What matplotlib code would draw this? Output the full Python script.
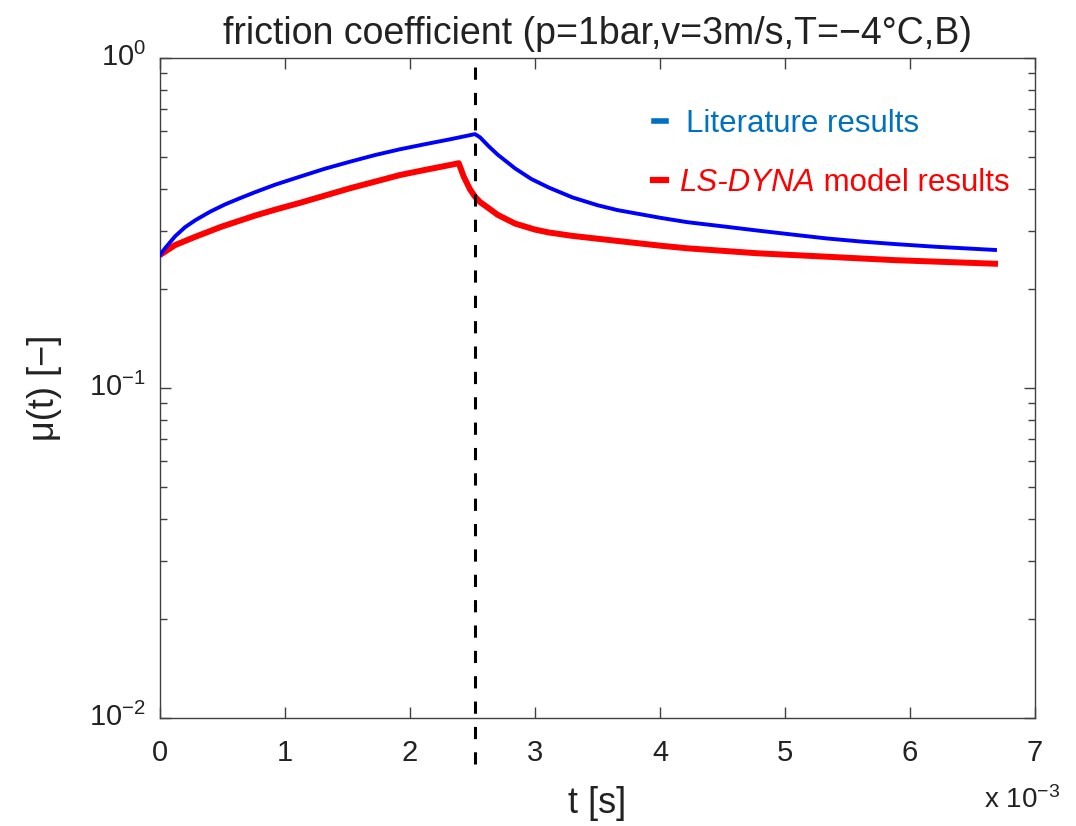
import matplotlib
matplotlib.use("Agg")
import matplotlib.pyplot as plt
import matplotlib.transforms as mtransforms
from matplotlib.lines import Line2D

plt.rcParams['font.family'] = ['Liberation Sans', 'DejaVu Sans']
plt.rcParams['mathtext.fontset'] = 'custom'
plt.rcParams['mathtext.rm'] = 'Liberation Sans'
plt.rcParams['mathtext.it'] = 'Liberation Sans:italic'

# time in units of 1e-3 s
t_lit = [0.0, 0.04, 0.12, 0.2, 0.28, 0.4, 0.52, 0.64, 0.76, 0.92, 1.12, 1.32, 1.52, 1.72, 1.92,
         2.12, 2.32, 2.52, 2.56, 2.63, 2.70, 2.84, 2.97, 3.11, 3.3, 3.5, 3.66, 4.0, 4.22, 4.5,
         4.78, 5.05, 5.33, 5.6, 5.88, 6.2, 6.68]
mu_lit = [0.253, 0.265, 0.288, 0.307, 0.322, 0.342, 0.36, 0.376, 0.392, 0.413, 0.437, 0.462, 0.485,
          0.508, 0.529, 0.548, 0.567, 0.588, 0.575, 0.54, 0.51, 0.463, 0.43, 0.405, 0.378, 0.358,
          0.346, 0.328, 0.318, 0.309, 0.300, 0.292, 0.284, 0.278, 0.273, 0.268, 0.262]

t_dyna = [0.0, 0.12, 0.28, 0.49, 0.76, 0.92, 1.12, 1.32, 1.52, 1.72, 1.92, 2.12, 2.32, 2.39,
          2.43, 2.48, 2.52, 2.56, 2.61, 2.7, 2.84, 3.0, 3.11, 3.3, 3.66, 4.0, 4.22, 4.78, 5.33,
          5.88, 6.68]
mu_dyna = [0.253, 0.271, 0.287, 0.308, 0.333, 0.347, 0.364, 0.383, 0.403, 0.422, 0.442, 0.458,
           0.474, 0.480, 0.437, 0.40, 0.38, 0.366, 0.355, 0.335, 0.315, 0.302, 0.296, 0.289, 0.279,
           0.27, 0.265, 0.256, 0.25, 0.244, 0.238]

t_switch = 2.52
x_ticks = [0, 1, 2, 3, 4, 5, 6, 7]

W, H = 1076, 826
fig = plt.figure(figsize=(W / 100, H / 100), dpi=100)
ax = fig.add_axes([160 / W, 1 - 718 / H, 875 / W, 660 / H])

ax.plot(t_lit, mu_lit, color='#0000ff', lw=2.8, zorder=3)
ax.plot(t_dyna, mu_dyna, color='#ff0000', lw=4.3, zorder=2)
ax.axvline(t_switch, ymin=-0.07, ymax=1, color='black', lw=2.2,
           dashes=(4, 4.3), clip_on=False, zorder=4)

ax.set_yscale('log')
ax.set_ylim(1e-2, 1)
ax.set_xlim(0, 7)
ax.set_xticks(x_ticks)
ax.set_xticklabels([str(v) for v in x_ticks])

for s in ax.spines.values():
    s.set_color('#404040')
    s.set_linewidth(1.0)
ax.tick_params(which='both', direction='in', top=True, right=True, colors='#404040',
               labelcolor='#222222', labelsize=21)
ax.tick_params(which='major', length=8, width=1)
ax.tick_params(which='minor', length=5, width=1)
ax.tick_params(axis='x', pad=15)
ax.tick_params(axis='y', pad=10)

# y labels sit a little above their ticks in the original
shift = mtransforms.ScaledTranslation(0, 4 / 100, fig.dpi_scale_trans)
for lbl in ax.get_yticklabels():
    lbl.set_transform(lbl.get_transform() + shift)

ax.set_title('friction coefficient (p=1bar,v=3m/s,T=\u22124\u00b0C,B)', fontsize=27,
             color='#222222', pad=10)
ax.set_xlabel('t [s]', fontsize=26, color='#222222', labelpad=14)
ax.set_ylabel('\u03bc(t) [\u2212]', fontsize=26, color='#222222', labelpad=20)
fig.text(1022 / W, 1 - 800 / H, r'x 10$^{-3}$', fontsize=20, color='#222222',
         ha='center', va='center')

# hand-made legend
fig.add_artist(Line2D([654 / W, 666 / W], [1 - 121 / H] * 2, color='#0070c0', lw=4))
fig.text(686 / W, 1 - 124 / H, 'Literature results', fontsize=22.5, color='#0070c0',
         va='center')
fig.add_artist(Line2D([653 / W, 666 / W], [1 - 180 / H] * 2, color='#ff0000', lw=4.5))
t1 = fig.text(679 / W, 1 - 183 / H, 'LS-DYNA', fontsize=22.5, color='#ff0000',
              style='italic', va='center')
ax.annotate(' model results', xy=(1, 0.5), xycoords=t1, fontsize=22.5, color='#ff0000',
            va='center', ha='left')

fig.savefig('out.png', dpi=100)
